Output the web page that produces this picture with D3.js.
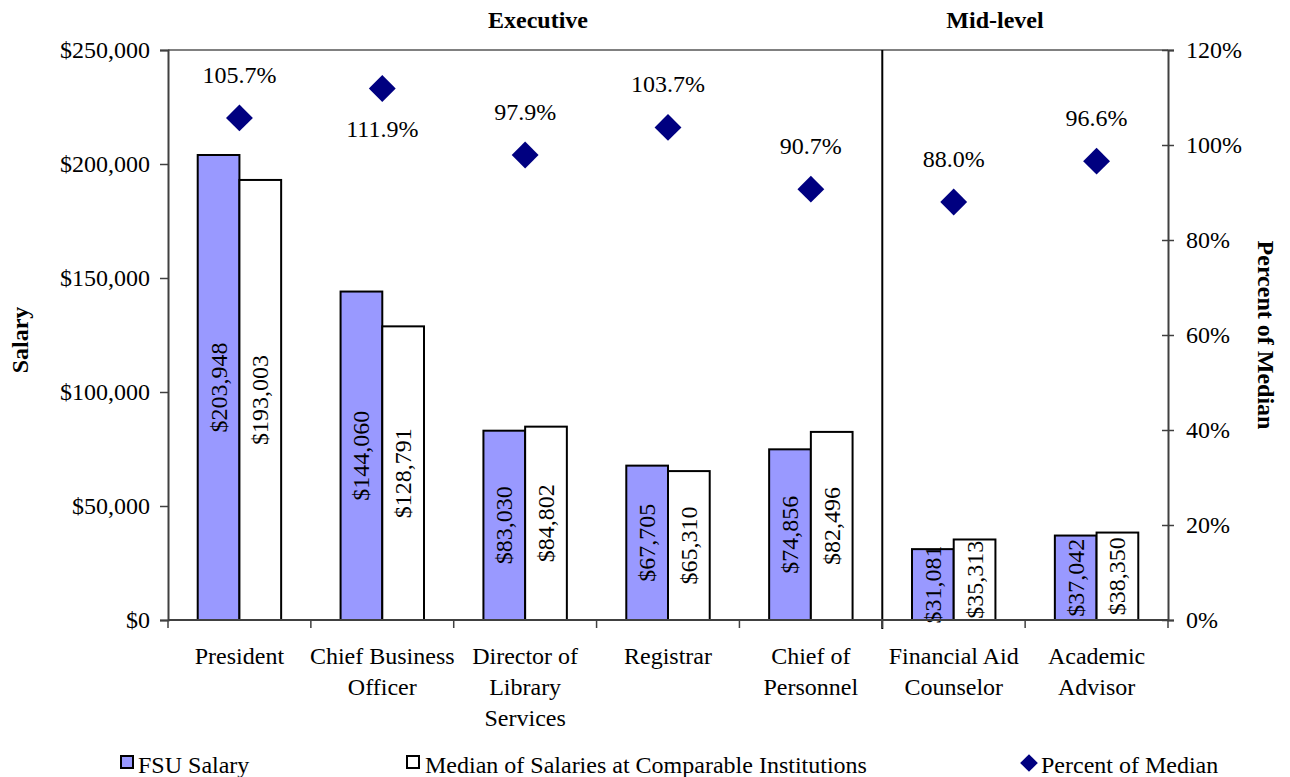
<!DOCTYPE html>
<html>
<head>
<meta charset="utf-8">
<title>FSU Salary vs Median</title>
<script src="https://cdn.jsdelivr.net/npm/d3@7"></script>
<style>
  body { margin: 0; background: #fff; }
  text { font-family: "Liberation Serif", "Times New Roman", serif; fill: #000; }
</style>
</head>
<body>
<script>
// data
var categories = ["President", "Chief Business Officer", "Director of Library Services", "Registrar",
                  "Chief of Personnel", "Financial Aid Counselor", "Academic Advisor"];
var catLines = [["President"], ["Chief Business", "Officer"], ["Director of", "Library", "Services"],
                ["Registrar"], ["Chief of", "Personnel"], ["Financial Aid", "Counselor"], ["Academic", "Advisor"]];
var fsuSalary = [203948, 144060, 83030, 67705, 74856, 31081, 37042];
var medianSalary = [193003, 128791, 84802, 65310, 82496, 35313, 38350];
var pctMedian = [105.7, 111.9, 97.9, 103.7, 90.7, 88.0, 96.6];
var salaryTicks = [0, 50000, 100000, 150000, 200000, 250000];
var pctTicks = [0, 20, 40, 60, 80, 100, 120];

var w = 1290, h = 777;
var margin = {top: 50, right: 122, bottom: 157, left: 168};
var fs = 24;

var svg = d3.select("body").append("svg").attr("width", w).attr("height", h);

var x = d3.scaleBand().domain(categories).range([margin.left, w - margin.right]).padding(0);
var y = d3.scaleLinear().domain([0, 250000]).range([h - margin.bottom, margin.top]);
var y2 = d3.scaleLinear().domain([0, 120]).range([h - margin.bottom, margin.top]);
var bw = x.bandwidth() * 0.292;
var fmt = d3.format("$,");

// top border of plot area
svg.append("line")
  .attr("x1", margin.left).attr("x2", w - margin.right)
  .attr("y1", margin.top).attr("y2", margin.top)
  .attr("stroke", "#808080").attr("stroke-width", 2);

// bars
var g = svg.append("g");
categories.forEach(function(c, i) {
  var cx = x(c) + x.bandwidth() / 2;
  g.append("rect")
    .attr("x", cx - bw).attr("width", bw)
    .attr("y", y(fsuSalary[i])).attr("height", y(0) - y(fsuSalary[i]))
    .attr("fill", "#9999FF").attr("stroke", "#000").attr("stroke-width", 2);
  g.append("rect")
    .attr("x", cx).attr("width", bw)
    .attr("y", y(medianSalary[i])).attr("height", y(0) - y(medianSalary[i]))
    .attr("fill", "#fff").attr("stroke", "#000").attr("stroke-width", 2);
  // value labels rotated, centered in bar
  [[fsuSalary[i], cx - bw / 2], [medianSalary[i], cx + bw / 2]].forEach(function(v) {
    var my = (y(v[0]) + y(0)) / 2;
    g.append("text")
      .attr("transform", "translate(" + (v[1] + 8) + "," + my + ") rotate(-90)")
      .attr("text-anchor", "middle")
      .style("font-size", fs + "px")
      .text(fmt(v[0]));
  });
});

// divider between executive and mid-level
svg.append("line")
  .attr("x1", x(categories[5])).attr("x2", x(categories[5]))
  .attr("y1", margin.top).attr("y2", y(0) + 9)
  .attr("stroke", "#000").attr("stroke-width", 2);

// left axis
var yAxis = d3.axisLeft(y).tickValues(salaryTicks).tickFormat(fmt).tickSize(8).tickPadding(10);
var ya = svg.append("g").attr("transform", "translate(" + margin.left + ",0)").call(yAxis);
ya.selectAll("text").style("font-size", fs + "px").style("font-family", "Liberation Serif");
ya.select(".domain").attr("stroke", "#404040").attr("stroke-width", 2);
ya.selectAll(".tick line").attr("stroke", "#404040").attr("stroke-width", 1.5);

// right axis, ticks crossing the line
var y2Axis = d3.axisRight(y2).tickValues(pctTicks).tickFormat(function(d) { return d + "%"; }).tickSize(6).tickPadding(12);
var ra = svg.append("g").attr("transform", "translate(" + (w - margin.right) + ",0)").call(y2Axis);
ra.selectAll("text").style("font-size", fs + "px").style("font-family", "Liberation Serif");
ra.select(".domain").attr("stroke", "#404040").attr("stroke-width", 2);
ra.selectAll(".tick line").attr("x1", -6).attr("stroke", "#404040").attr("stroke-width", 1.5);

// bottom axis line and ticks at band boundaries
svg.append("line")
  .attr("x1", margin.left).attr("x2", w - margin.right)
  .attr("y1", y(0)).attr("y2", y(0))
  .attr("stroke", "#404040").attr("stroke-width", 2);
categories.concat([null]).forEach(function(c, i) {
  var bx = c ? x(c) : w - margin.right;
  svg.append("line")
    .attr("x1", bx).attr("x2", bx).attr("y1", y(0)).attr("y2", y(0) + 8)
    .attr("stroke", "#404040").attr("stroke-width", 1.5);
});

// category labels
categories.forEach(function(c, i) {
  var t = svg.append("text")
    .attr("x", x(c) + x.bandwidth() / 2).attr("y", 664)
    .attr("text-anchor", "middle").style("font-size", fs + "px");
  catLines[i].forEach(function(line, j) {
    t.append("tspan").attr("x", x(c) + x.bandwidth() / 2).attr("dy", j === 0 ? 0 : 31).text(line);
  });
});

// percent diamonds
var diamond = d3.symbol().type(d3.symbolDiamond2).size(460);
categories.forEach(function(c, i) {
  var cx = x(c) + x.bandwidth() / 2;
  var py = y2(pctMedian[i]);
  svg.append("path").attr("d", diamond)
    .attr("transform", "translate(" + cx + "," + py + ")")
    .attr("fill", "#000080");
  var below = i === 1;
  svg.append("text")
    .attr("x", cx).attr("y", below ? py + 49 : py - 35)
    .attr("text-anchor", "middle").style("font-size", fs + "px")
    .text(pctMedian[i].toFixed(1) + "%");
});

// group headings
svg.append("text").attr("x", 538).attr("y", 28).attr("text-anchor", "middle")
  .style("font-size", fs + "px").style("font-weight", "bold").text("Executive");
svg.append("text").attr("x", 995).attr("y", 28).attr("text-anchor", "middle")
  .style("font-size", fs + "px").style("font-weight", "bold").text("Mid-level");

// axis titles
svg.append("text").attr("transform", "translate(28," + ((margin.top + y(0)) / 2 + 5) + ") rotate(-90)")
  .attr("text-anchor", "middle").style("font-size", fs + "px").style("font-weight", "bold").text("Salary");
svg.append("text").attr("transform", "translate(1258," + ((margin.top + y(0)) / 2 + 0) + ") rotate(90)")
  .attr("text-anchor", "middle").style("font-size", fs + "px").style("font-weight", "bold").text("Percent of Median");

// legend
var leg = svg.append("g");
leg.append("rect").attr("x", 121).attr("y", 756).attr("width", 12).attr("height", 12)
  .attr("fill", "#9999FF").attr("stroke", "#000").attr("stroke-width", 2);
leg.append("text").attr("x", 138).attr("y", 773).style("font-size", fs + "px").text("FSU Salary");
leg.append("rect").attr("x", 407).attr("y", 756).attr("width", 12).attr("height", 12)
  .attr("fill", "#fff").attr("stroke", "#000").attr("stroke-width", 2);
leg.append("text").attr("x", 425).attr("y", 773).style("font-size", fs + "px").text("Median of Salaries at Comparable Institutions");
leg.append("path").attr("d", d3.symbol().type(d3.symbolDiamond2).size(200))
  .attr("transform", "translate(1029,763)").attr("fill", "#000080");
leg.append("text").attr("x", 1041).attr("y", 773).style("font-size", fs + "px").text("Percent of Median");
</script>
</body>
</html>
